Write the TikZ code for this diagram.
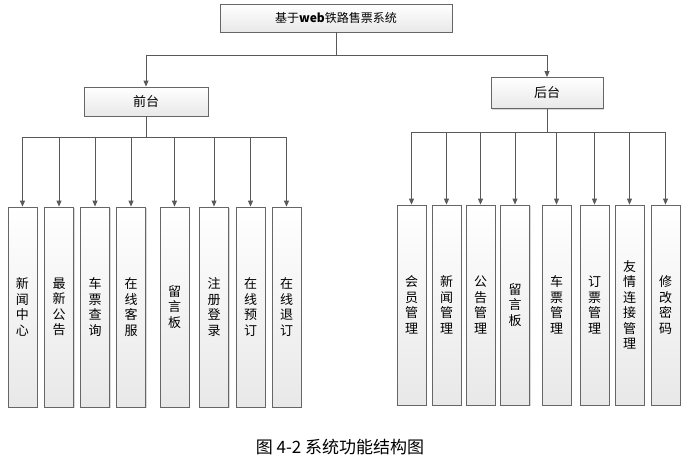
\documentclass[tikz,border=0pt]{standalone}
\usepackage{fontspec}
\newfontfamily\cjk{Noto Sans CJK SC}
\usetikzlibrary{arrows.meta,shadows}

\tikzset{
	box/.style={draw=black!60,line width=0.8pt,top color=white,bottom color=black!9,
		drop shadow={shadow xshift=1.2pt,shadow yshift=-1.2pt,opacity=0.3},
		inner sep=0pt,font=\cjk\fontsize{13}{15.5}\selectfont},
	vbox/.style={box,minimum width=29pt,minimum height=200pt,align=center},
	link/.style={draw=black!65,line width=0.9pt,-{Triangle[length=6pt,width=5pt]}}
}

\begin{document}
\begin{tikzpicture}[x=1pt,y=-1pt]
\useasboundingbox (0,0) rectangle (692,470);
\node[box,minimum width=232pt,minimum height=28pt,font=\cjk\fontsize{12}{14}\selectfont] (sys) at (336,18) {基于{\bfseries web}铁路售票系统};
\node[box,minimum width=124pt,minimum height=29pt] (front) at (146,101.5) {前台};
\node[box,minimum width=112pt,minimum height=31pt] (back) at (547,93) {后台};
\coordinate (sj) at (336,55);
\coordinate (fj) at (146,137);
\coordinate (bj) at (547,132);
\draw[link] (sys.south) -- (sj) -| (front.north);
\draw[link] (sj) -| (back.north);
\draw[draw=black!65,line width=0.9pt] (front.south) -- (fj);
\draw[draw=black!65,line width=0.9pt] (back.south) -- (bj);
% front modules
\foreach \n/\x/\t in {f1/22.5/{新\\闻\\中\\心},f2/59/{最\\新\\公\\告},f3/95/{车\\票\\查\\询},
	f4/131/{在\\线\\客\\服},f5/174.5/{留\\言\\板},f6/214/{注\\册\\登\\录},
	f7/250.5/{在\\线\\预\\订},f8/286.5/{在\\线\\退\\订}}{
	\node[vbox] (\n) at (\x,307) {\t};
	\draw[link] (fj) -| (\n.north);
}
% back modules
\foreach \n/\x/\t in {b1/411.5/{会\\员\\管\\理},b2/446.5/{新\\闻\\管\\理},b3/480.5/{公\\告\\管\\理},
	b4/515/{留\\言\\板},b5/556.5/{车\\票\\管\\理},b6/594.5/{订\\票\\管\\理},
	b7/629.5/{友\\情\\连\\接\\管\\理},b8/665.5/{修\\改\\密\\码}}{
	\node[vbox] (\n) at (\x,305) {\t};
	\draw[link] (bj) -| (\n.north);
}
\node[font=\cjk\fontsize{17}{19}\selectfont] (cap) at (340,447) {图 4-2 系统功能结构图};
\end{tikzpicture}
\end{document}
